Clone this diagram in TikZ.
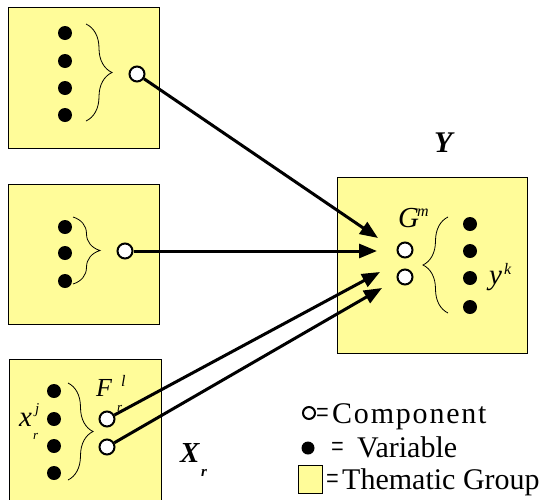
\documentclass[tikz,border=0pt]{standalone}
\usepackage{fontspec}
\usepackage{graphicx}
\setmainfont{Liberation Serif}
\usetikzlibrary{arrows.meta,decorations.pathreplacing}
\definecolor{grp}{RGB}{255,252,153}
\newcommand{\eqs}{\scalebox{0.75}[1.1]{=}}
\begin{document}
\begin{tikzpicture}[x=1pt,y=-1pt,
 group/.style={draw=black, line width=0.8pt, fill=grp},
 var/.style={circle, fill=black, inner sep=0pt, minimum size=14pt},
 comp/.style={circle, draw=black, line width=2pt, fill=white, inner sep=0pt, minimum size=15pt},
 brc/.style={decorate, decoration={brace, amplitude=#1}, line width=0.8pt},
 brc/.default=26pt,
 link/.style={line width=3pt, -{Triangle[length=18pt,width=14pt]}},
 txt/.style={inner sep=0pt, anchor=base west},
 it/.style={txt, font=\fontsize{#1}{#1}\selectfont\itshape},
 bi/.style={txt, font=\fontsize{#1}{#1}\selectfont\bfseries\itshape},
 rm/.style={txt, font=\fontsize{#1}{#1}\selectfont}]
\useasboundingbox (0,0) rectangle (544,499);

% thematic groups
\draw[group] (8,7) rectangle (159,148);
\draw[group] (8,184) rectangle (159,324);
\draw[group] (9,359) rectangle (161,505);
\draw[group] (337,177) rectangle (527,353);

% group 1
\foreach \y [count=\i] in {33,61,88,115} \node[var] (a\i) at (65,\y) {};
\draw[brc] (86,24) -- (86,121);
\node[comp] (ca) at (137,74) {};

% group 2
\foreach \y [count=\i] in {227,253,281} \node[var] (b\i) at (65,\y) {};
\draw[brc=27pt] (73,217) -- (73,284);
\node[comp] (cb) at (125,251) {};

% group 3 (X_r)
\foreach \y [count=\i] in {391,419,446,473} \node[var] (x\i) at (54,\y) {};
\draw[brc=25pt] (68,383) -- (68,480);
\node[comp] (cf1) at (107,419) {};
\node[comp] (cf2) at (107,447) {};
\node[it=29] (xl) at (19,426) {x};
\node[it=15] (xj) at (35,413) {j};
\node[it=13] (xr) at (33,439) {r};
\node[it=26] (fl) at (96,396) {F};
\node[it=16] (fs) at (121,386) {l};
\node[it=13] (fr) at (117,411) {r};
\node[bi=29] (X) at (180,462) {X};
\node[bi=15] (Xr) at (201,476) {r};

% group Y
\foreach \y [count=\i] in {224,251,278,307} \node[var] (y\i) at (470,\y) {};
\draw[brc=25pt] (448,313) -- (448,217);
\node[comp] (cg1) at (405,250) {};
\node[comp] (cg2) at (405,277) {};
\node[it=29] (gl) at (398,227) {G};
\node[it=16] (gm) at (417,216) {m};
\node[it=29] (yl) at (489,284) {y};
\node[it=16] (yk) at (504,274) {k};
\node[bi=30] (Y) at (434,152) {Y};

% connectors
\coordinate (t1) at (378,238);
\coordinate (t2) at (377,251);
\coordinate (t3) at (380,272);
\coordinate (t4) at (382,288);
\draw[link] (ca) -- (t1);
\draw[link] (cb) -- (t2);
\draw[link] (cf1) -- (t3);
\draw[link] (cf2) -- (t4);

% legend
\node[comp, minimum size=12pt] (lc) at (309,413) {};
\node[rm=30] (lce) at (316,423) {\eqs};
\node[rm=30] (lct) at (332,423) {\addfontfeature{LetterSpace=6}Component};
\node[var, minimum size=13pt] (lv) at (308,448) {};
\node[rm=30] (lve) at (331,457) {\eqs};
\node[rm=30] (lvt) at (357,457) {Variable};
\draw[group] (298,465) rectangle (322,493);
\node[rm=30] (lge) at (326,489) {\eqs};
\node[rm=30] (lgt) at (342,489) {Thematic Group};
\end{tikzpicture}
\end{document}
